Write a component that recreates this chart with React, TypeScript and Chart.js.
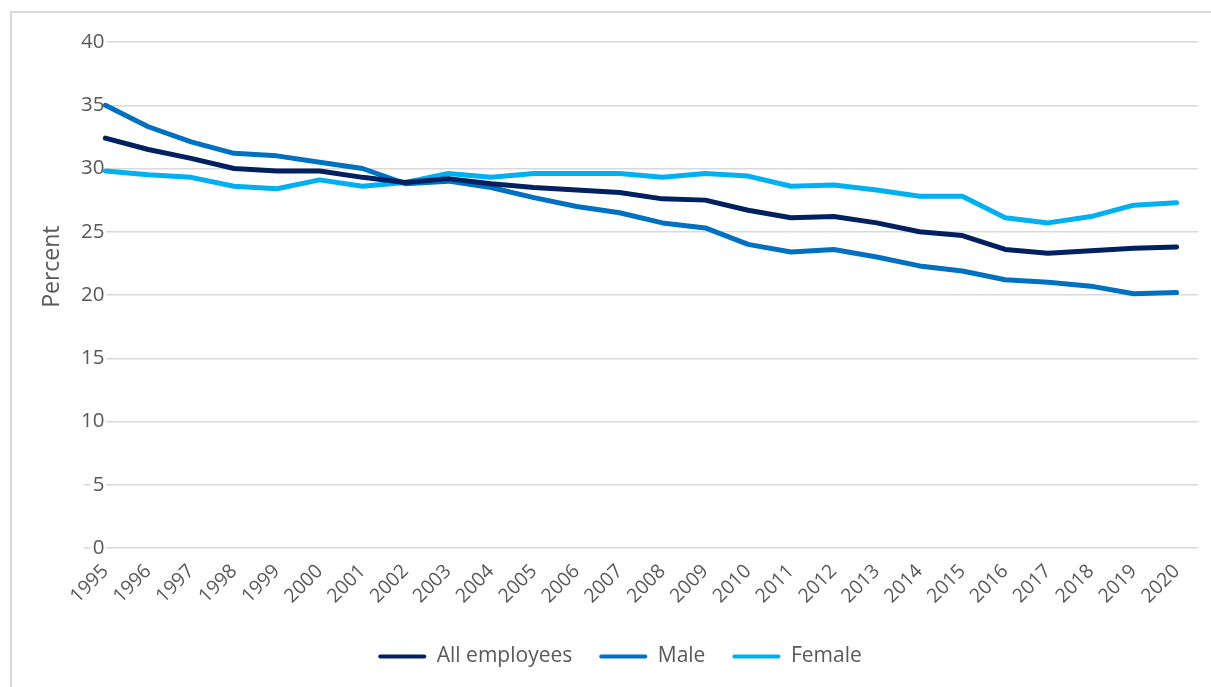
import React, { useEffect, useRef } from 'react';
import { Chart, registerables } from 'chart.js';

Chart.register(...registerables);

const years = [
  '1995', '1996', '1997', '1998', '1999', '2000', '2001', '2002', '2003', '2004',
  '2005', '2006', '2007', '2008', '2009', '2010', '2011', '2012', '2013', '2014',
  '2015', '2016', '2017', '2018', '2019', '2020',
];

const allEmployees = [
  32.4, 31.5, 30.8, 30.0, 29.8, 29.8, 29.3, 28.9, 29.2, 28.8,
  28.5, 28.3, 28.1, 27.6, 27.5, 26.7, 26.1, 26.2, 25.7, 25.0,
  24.7, 23.6, 23.3, 23.5, 23.7, 23.8,
];

const male = [
  35.0, 33.3, 32.1, 31.2, 31.0, 30.5, 30.0, 28.8, 29.0, 28.5,
  27.7, 27.0, 26.5, 25.7, 25.3, 24.0, 23.4, 23.6, 23.0, 22.3,
  21.9, 21.2, 21.0, 20.7, 20.1, 20.2,
];

const female = [
  29.8, 29.5, 29.3, 28.6, 28.4, 29.1, 28.6, 28.9, 29.6, 29.3,
  29.6, 29.6, 29.6, 29.3, 29.6, 29.4, 28.6, 28.7, 28.3, 27.8,
  27.8, 26.1, 25.7, 26.2, 27.1, 27.3,
];

const seriesNames = ['All employees', 'Male', 'Female'];
const seriesColors = ['#002060', '#0070C0', '#00B0F0'];
const yTitle = 'Percent';
const yMin = 0;
const yMax = 40;
const yStep = 5;

const FONT = '"Open Sans", sans-serif';
const TEXT = '#595959';
const GRID = '#d9d9d9';

const yTitlePlugin = {
  id: 'yTitlePlugin',
  afterLayout(chart: any) {
    const lg = chart.legend;
    if (lg) {
      lg.left += 15;
      lg.right += 15;
    }
  },
  afterDraw(chart: any) {
    const { ctx, chartArea } = chart;
    ctx.save();
    ctx.translate(chartArea.left - 32, chartArea.top + (chartArea.bottom - chartArea.top) * 0.444);
    ctx.rotate(-Math.PI / 2);
    ctx.font = `23px ${FONT}`;
    ctx.fillStyle = TEXT;
    ctx.textAlign = 'center';
    ctx.textBaseline = 'middle';
    ctx.fillText(yTitle, 0, 0);
    ctx.restore();
  },
};

export default function App() {
  const ref = useRef<HTMLCanvasElement>(null);

  useEffect(() => {
    const values = [allEmployees, male, female];
    const chart = new Chart(ref.current as HTMLCanvasElement, {
      type: 'line',
      data: {
        labels: years,
        datasets: values.map((d, i) => ({
          label: seriesNames[i],
          data: d,
          borderColor: seriesColors[i],
          backgroundColor: seriesColors[i],
          borderWidth: 5,
          pointRadius: 0,
          pointHoverRadius: 0,
          tension: 0,
          fill: false,
          borderCapStyle: 'round',
          borderJoinStyle: 'round',
        })),
      },
      options: {
        animation: false,
        responsive: true,
        maintainAspectRatio: false,
        layout: { padding: { left: 0, right: 13, top: 29, bottom: 10 } },
        scales: {
          x: {
            offset: true,
            grid: { display: false },
            border: { display: false },
            ticks: {
              autoSkip: false,
              maxRotation: 45,
              minRotation: 45,
              color: TEXT,
              font: { family: FONT, size: 19.5 },
              padding: 4,
            },
            afterFit: (s: any) => {
              s.height = 71;
            },
          },
          y: {
            min: yMin,
            max: yMax,
            grid: { color: GRID, lineWidth: 1.5, drawTicks: false },
            border: { display: false },
            ticks: {
              stepSize: yStep,
              mirror: true,
              crossAlign: 'far',
              padding: -3,
              color: TEXT,
              font: { family: FONT, size: 20.5 },
              showLabelBackdrop: true,
              backdropColor: '#ffffff',
              backdropPadding: { left: 2, right: 2, top: 0, bottom: 0 },
            },
            afterFit: (s: any) => {
              s.width = 72;
            },
          },
        },
        plugins: {
          legend: {
            position: 'bottom',
            labels: {
              boxWidth: 48,
              boxHeight: 4,
              padding: 27,
              color: TEXT,
              useBorderRadius: true,
              borderRadius: 2,
              font: { family: FONT, size: 21 },
              generateLabels: (c: any) =>
                Chart.defaults.plugins.legend.labels.generateLabels(c).map((l: any) => ({
                  ...l,
                  lineWidth: 0,
                  fillStyle: seriesColors[l.datasetIndex],
                })),
            },
          },
          tooltip: { enabled: false },
        },
      },
      plugins: [yTitlePlugin],
    } as any);
    return () => chart.destroy();
  }, []);

  return (
    <div
      style={{
        position: 'fixed',
        left: 10,
        top: 11,
        width: 1201,
        height: 676,
        boxSizing: 'border-box',
        borderTop: `2px solid ${GRID}`,
        borderLeft: `2px solid ${GRID}`,
        background: '#fff',
      }}
    >
      <div style={{ position: 'relative', width: 1199, height: 674 }}>
        <canvas ref={ref} />
      </div>
    </div>
  );
}
